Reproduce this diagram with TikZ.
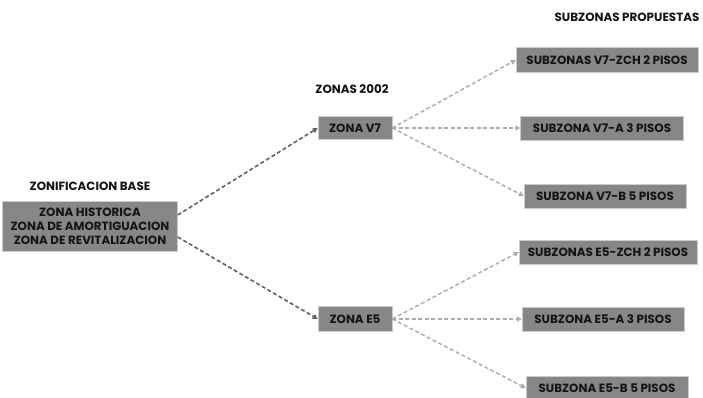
\documentclass[tikz,border=0pt]{standalone}
\usepackage{fontspec}
\setmainfont{Poppins}
\usetikzlibrary{arrows.meta}
\begin{document}
\begin{tikzpicture}[x=1pt,y=-1pt,
  box/.style={draw=gray!40, fill=black!47, inner sep=0pt, font=\bfseries\fontsize{11.9}{14}\selectfont, text=black!92, align=center},
  ttl/.style={font=\bfseries\fontsize{11.9}{14}\selectfont, text=black!92},
  darr/.style={draw=black!62, line width=1.6pt, dash pattern=on 4pt off 2.5pt, -{Triangle[length=5pt,width=5pt]}},
  larr/.style={draw=black!33, line width=1.4pt, dash pattern=on 4pt off 2.5pt, -{Triangle[length=5pt,width=5pt]}}]
\useasboundingbox (0,0) rectangle (703,398);
\node[box, minimum width=175pt, minimum height=50pt] (base) at (90,226) {ZONA HISTORICA\\ZONA DE AMORTIGUACION\\ZONA DE REVITALIZACION};
\node[ttl] (tbase) at (90,186) {ZONIFICACION BASE};
\node[box, minimum width=74pt, minimum height=23pt] (v7) at (355,128) {ZONA V7};
\node[ttl] (tz) at (352,89) {ZONAS 2002};
\node[box, minimum width=74pt, minimum height=25pt] (e5) at (355,319) {ZONA E5};
\node[ttl] (tsub) at (627,17) {SUBZONAS PROPUESTAS};
\node[box, minimum width=182pt, minimum height=25pt] (s1) at (607,60) {SUBZONAS V7-ZCH 2 PISOS};
\node[box, minimum width=163pt, minimum height=24pt] (s2) at (602,128) {SUBZONA V7-A 3 PISOS};
\node[box, minimum width=162pt, minimum height=24pt] (s3) at (605,196) {SUBZONA V7-B 5 PISOS};
\node[box, minimum width=178pt, minimum height=24pt] (s4) at (608,252) {SUBZONAS E5-ZCH 2 PISOS};
\node[box, minimum width=162pt, minimum height=24pt] (s5) at (603,319) {SUBZONA E5-A 3 PISOS};
\node[box, minimum width=162pt, minimum height=24pt] (s6) at (607,388) {SUBZONA E5-B 5 PISOS};
\draw[darr] ([yshift=11pt]base.east) -- (v7.west);
\draw[darr] ([yshift=-11pt]base.east) -- (e5.west);
\draw[larr] (v7.east) -- (s1.west);
\draw[larr] (v7.east) -- (s2.west);
\draw[larr] (v7.east) -- (s3.west);
\draw[larr] (e5.east) -- (s4.west);
\draw[larr] (e5.east) -- (s5.west);
\draw[larr] (e5.east) -- (s6.west);
\end{tikzpicture}
\end{document}
